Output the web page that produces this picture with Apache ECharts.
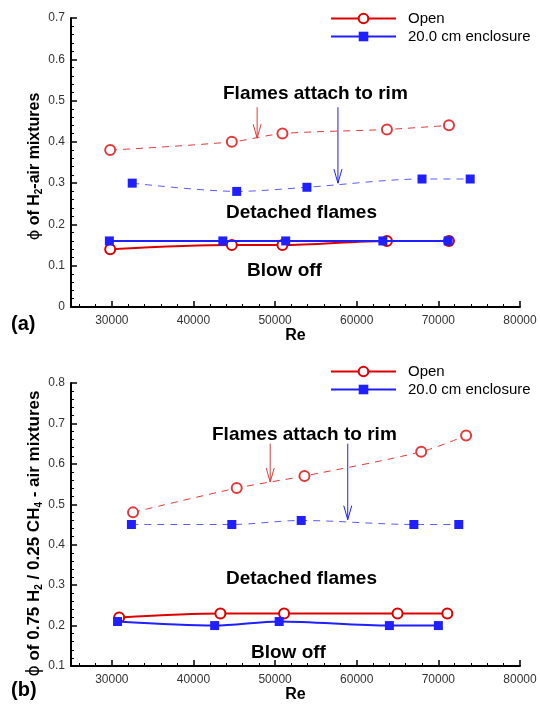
<!DOCTYPE html>
<html><head><meta charset="utf-8">
<script src="https://cdn.jsdelivr.net/npm/echarts@6/dist/echarts.min.js"></script>
<style>html,body{margin:0;padding:0;background:#fff}#c{width:540px;height:704px}</style>
</head><body><div id="c"></div>
<script>
// ---- axis ticks ----
const xTickValues = [30000, 40000, 50000, 60000, 70000, 80000];
const xMinorValues = [26000, 28000, 32000, 34000, 36000, 38000, 42000, 44000, 46000, 48000,
  52000, 54000, 56000, 58000, 62000, 64000, 66000, 68000, 72000, 74000, 76000, 78000];
const legendNames = ['Open', '20.0 cm enclosure'];

// ---- chart (a): H2-air ----
const reA_openAttach = [29800, 44700, 50900, 63700, 71300];
const phiA_openAttach = [0.38, 0.40, 0.42, 0.43, 0.44];
const reA_encAttach = [32500, 45300, 53900, 68000, 73900];
const phiA_encAttach = [0.30, 0.28, 0.29, 0.31, 0.31];
const reA_openBlow = [29800, 44700, 50900, 63700, 71300];
const phiA_openBlow = [0.14, 0.15, 0.15, 0.16, 0.16];
const reA_encBlow = [29700, 43600, 51300, 63200, 71200];
const phiA_encBlow = [0.16, 0.16, 0.16, 0.16, 0.16];
// arrows: [Re, phi at top, phi at tip]
const arrowA_open = [47800, 0.484, 0.409];
const arrowA_enc = [57700, 0.484, 0.300];

// ---- chart (b): 0.75 H2 / 0.25 CH4 ----
const reB_openAttach = [32600, 45300, 53600, 67900, 73400];
const phiB_openAttach = [0.48, 0.54, 0.57, 0.63, 0.67];
const reB_encAttach = [32400, 44700, 53200, 67000, 72500];
const phiB_encAttach = [0.45, 0.45, 0.46, 0.45, 0.45];
const reB_openBlow = [30900, 43300, 51100, 65000, 71100];
const phiB_openBlow = [0.22, 0.23, 0.23, 0.23, 0.23];
const reB_encBlow = [30700, 42600, 50500, 64000, 70000];
const phiB_encBlow = [0.21, 0.20, 0.21, 0.20, 0.20];
const arrowB_open = [49400, 0.650, 0.555];
const arrowB_enc = [58900, 0.650, 0.462];

const zip = (xs, ys) => xs.map((x, i) => [x, ys[i]]);
const RED = '#dd0000', RED_D = '#e23a3a', BLUE = '#1f1fff', BLUE_D = '#5a5aff';
const FONT = '"Liberation Sans", Arial, sans-serif';

function mainX(g) {
  return {
    type: 'value', gridIndex: g, min: 25000, max: 80000, position: 'bottom',
    axisLine: { show: true, onZero: false, lineStyle: { color: '#000', width: 2 } },
    axisTick: { show: true, inside: true, length: 6, customValues: xTickValues, lineStyle: { color: '#000', width: 1.5 } },
    axisLabel: { customValues: xTickValues, color: '#333', fontSize: 12, margin: 8, fontFamily: FONT,
      formatter: v => String(v) },
    splitLine: { show: false },
    name: 'Re', nameLocation: 'middle', nameGap: 21, nameMoveOverlap: false,
    nameTextStyle: { fontWeight: 'bold', fontSize: 16, color: '#000', fontFamily: FONT }
  };
}
function minorX(g) {
  return {
    type: 'value', gridIndex: g, min: 25000, max: 80000, position: 'bottom', offset: 0,
    axisLine: { show: false, onZero: false },
    axisTick: { show: true, inside: true, length: 3, customValues: xMinorValues, lineStyle: { color: '#000', width: 1 } },
    axisLabel: { show: false }, splitLine: { show: false }
  };
}
function yAx(g, min, max, name, fs, shift) {
  return {
    type: 'value', gridIndex: g, min: min, max: max, interval: 0.1,
    axisLine: { show: true, onZero: false, lineStyle: { color: '#000', width: 2 } },
    axisTick: { show: true, inside: true, length: 6, lineStyle: { color: '#000', width: 1.5 } },
    minorTick: { show: true, splitNumber: 5, length: 3, lineStyle: { color: '#000', width: 1 } },
    axisLabel: { color: '#333', fontSize: 12, margin: 6, fontFamily: FONT,
      formatter: v => String(Math.round(v * 10) / 10) },
    splitLine: { show: false }, minorSplitLine: { show: false },
    name: name, nameLocation: 'middle', nameGap: 27, nameRotate: 90, nameMoveOverlap: false,
    nameTextStyle: {
      fontWeight: 'bold', fontSize: fs, color: '#000', fontFamily: FONT, lineHeight: 19,
      padding: [0, shift, 0, 0],
      rich: {
        p: { fontWeight: 'normal', fontSize: fs, fontFamily: 'DejaVu Sans', color: '#000', lineHeight: 19 },
        t: { fontWeight: 'bold', fontSize: fs, fontFamily: FONT, color: '#000', lineHeight: 19 },
        s: { fontWeight: 'bold', fontSize: 10, fontFamily: FONT, color: '#000', lineHeight: 10, verticalAlign: 'bottom' }
      }
    }
  };
}
function arrowSeries(g, a, color) {
  return {
    name: 'arrow', type: 'custom', xAxisIndex: g, yAxisIndex: g, silent: true, clip: false, z: 5,
    data: [a], encode: { x: 0, y: [1, 2] },
    renderItem: (params, api) => {
      const top = api.coord([api.value(0), api.value(1)]);
      const tip = api.coord([api.value(0), api.value(2)]);
      return { type: 'group', children: [
        { type: 'line', shape: { x1: top[0], y1: top[1], x2: tip[0], y2: tip[1] },
          style: { stroke: color, lineWidth: 1 } },
        { type: 'polyline', shape: { points: [[tip[0] - 4, tip[1] - 14], [tip[0], tip[1]], [tip[0] + 4, tip[1] - 14]] },
          style: { stroke: color, fill: null, lineWidth: 1 } }
      ] };
    }
  };
}
function openSolid(g, data) {
  return { name: 'Open', type: 'line', xAxisIndex: g, yAxisIndex: g, data: data, smooth: 0.3,
    symbol: 'emptyCircle', symbolSize: 10, z: 3,
    itemStyle: { color: RED, borderColor: RED, borderWidth: 1 },
    lineStyle: { color: RED, width: 2 } };
}
function encSolid(g, data) {
  return { name: '20.0 cm enclosure', type: 'line', xAxisIndex: g, yAxisIndex: g, data: data, smooth: 0.3,
    symbol: 'rect', symbolSize: 9, z: 4,
    itemStyle: { color: BLUE },
    lineStyle: { color: BLUE, width: 2 } };
}
function openDash(g, data) {
  return { name: 'Open attach', type: 'line', xAxisIndex: g, yAxisIndex: g, data: data, smooth: 0.3,
    symbol: 'emptyCircle', symbolSize: 10,
    itemStyle: { color: RED_D, borderColor: RED_D, borderWidth: 1 },
    lineStyle: { color: RED_D, width: 1, type: [7, 6] } };
}
function encDash(g, data) {
  return { name: 'Enclosure attach', type: 'line', xAxisIndex: g, yAxisIndex: g, data: data, smooth: 0.3,
    symbol: 'rect', symbolSize: 9,
    itemStyle: { color: BLUE },
    lineStyle: { color: BLUE_D, width: 1, type: [7, 6] } };
}
function txt(x, y, s, size) {
  return { type: 'text', x: x, y: y, z: 10,
    style: { text: s, font: 'bold ' + size + 'px ' + FONT, fill: '#000', verticalAlign: 'middle', textVerticalAlign: 'middle' } };
}
function legend(top) {
  return { left: 330, top: top, padding: 0, orient: 'vertical', itemWidth: 65, itemHeight: 12, itemGap: 3,
    data: legendNames, selectedMode: false,
    textStyle: { fontSize: 15, color: '#000', fontFamily: FONT, padding: [0, 0, 0, 7] } };
}

const chart = echarts.init(document.getElementById('c'));
chart.setOption({
  animation: false,
  backgroundColor: '#fff',
  grid: [
    { left: 71, top: 18, width: 449, height: 289 },
    { left: 71, top: 383, width: 449, height: 289 }
  ],
  legend: [legend(11), legend(364)],
  xAxis: [mainX(0), mainX(1), minorX(0), minorX(1)],
  yAxis: [
    yAx(0, 0, 0.7, '{p|ϕ}{t| of H}{s|2}{t|-air mixtures}', 16, 8),
    yAx(1, 0.1, 0.8, '{p|ϕ}{t| of 0.75 H}{s|2}{t| / 0.25 CH}{s|4}{t| - air mixtures}', 17, 18)
  ],
  series: [
    openSolid(0, zip(reA_openBlow, phiA_openBlow)),
    encSolid(0, zip(reA_encBlow, phiA_encBlow)),
    openDash(0, zip(reA_openAttach, phiA_openAttach)),
    encDash(0, zip(reA_encAttach, phiA_encAttach)),
    arrowSeries(0, arrowA_open, RED_D),
    arrowSeries(0, arrowA_enc, BLUE),
    openSolid(1, zip(reB_openBlow, phiB_openBlow)),
    encSolid(1, zip(reB_encBlow, phiB_encBlow)),
    openDash(1, zip(reB_openAttach, phiB_openAttach)),
    encDash(1, zip(reB_encAttach, phiB_encAttach)),
    arrowSeries(1, arrowB_open, RED_D),
    arrowSeries(1, arrowB_enc, BLUE)
  ],
  graphic: [
    txt(223, 94, 'Flames attach to rim', 19),
    txt(226, 213, 'Detached flames', 19),
    txt(247, 271, 'Blow off', 19),
    txt(212, 435, 'Flames attach to rim', 19),
    txt(226, 579, 'Detached flames', 19),
    txt(251, 653, 'Blow off', 19),
    txt(11, 324, '(a)', 20),
    txt(11, 690, '(b)', 20)
  ]
});
</script></body></html>
